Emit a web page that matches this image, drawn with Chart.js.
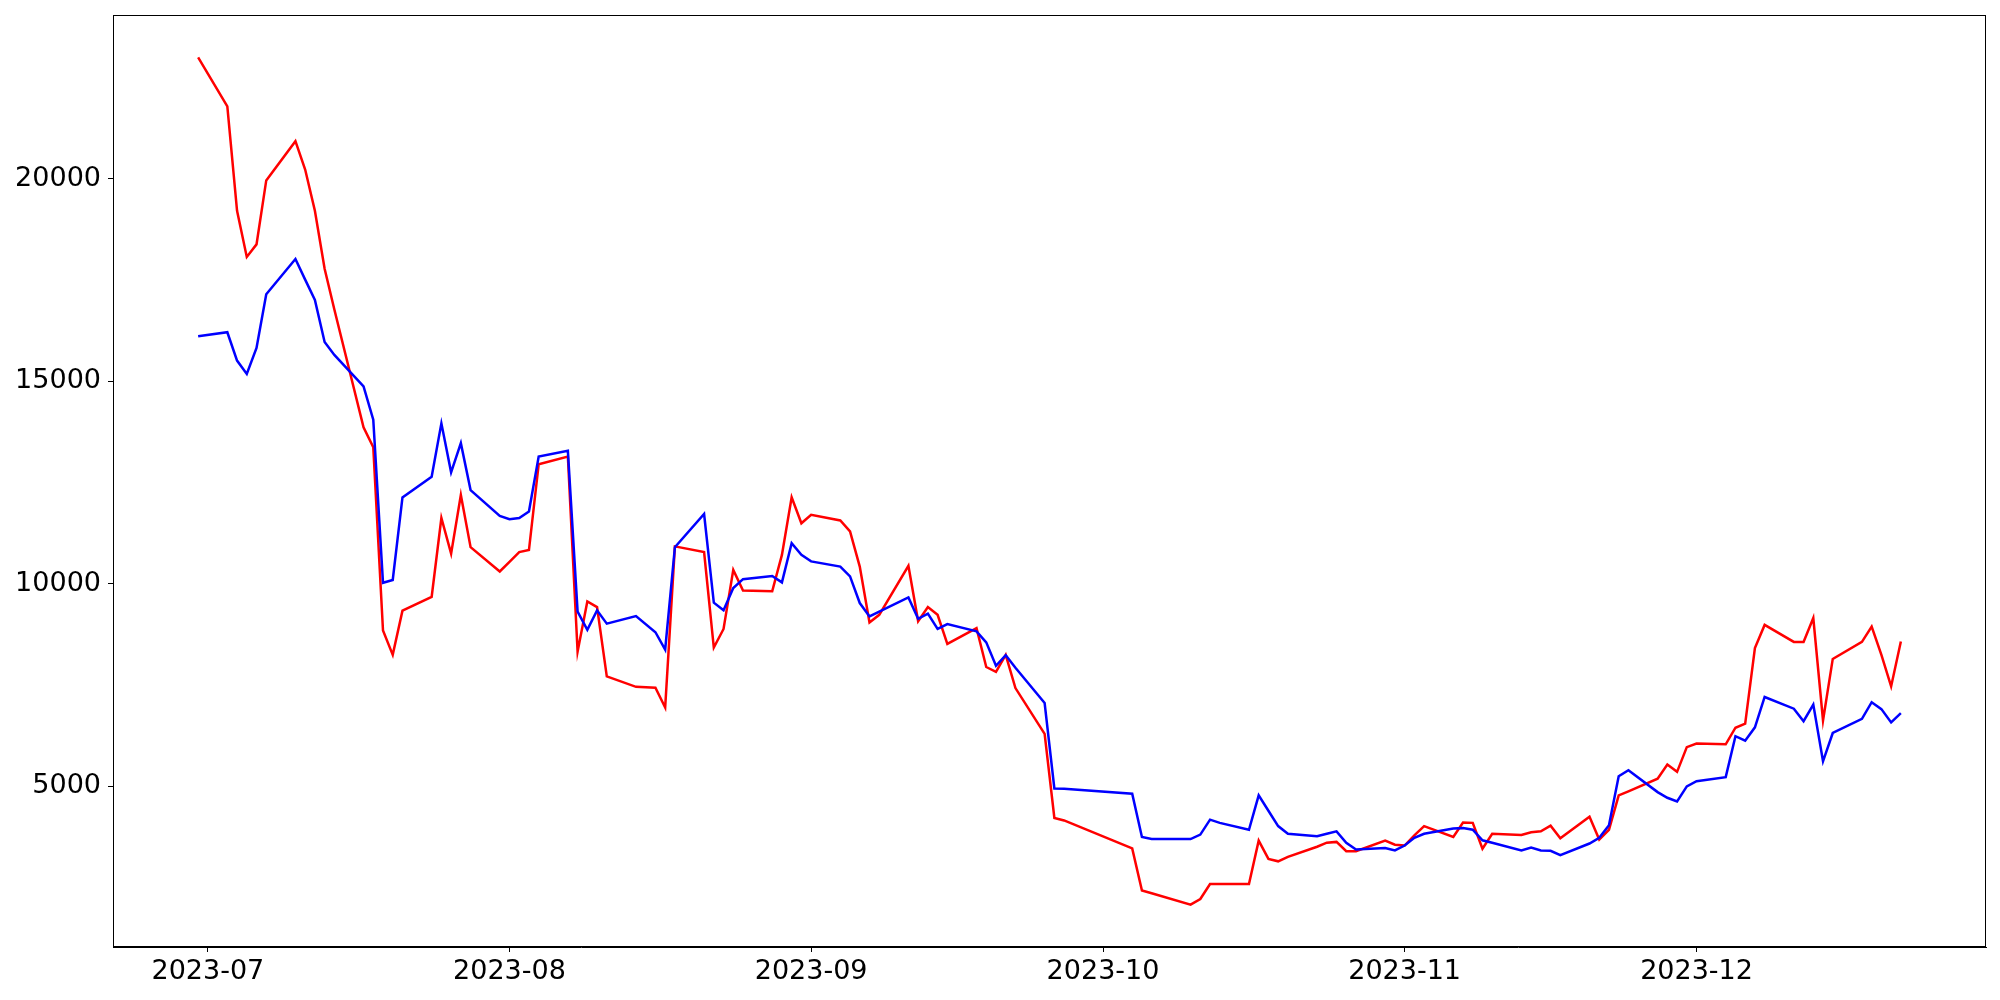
<!DOCTYPE html>
<html>
<head>
<meta charset="utf-8">
<script src="https://cdn.jsdelivr.net/npm/chart.js@4/dist/chart.umd.min.js"></script>
<style>
  body { margin: 0; background: #fff; }
</style>
</head>
<body>
<canvas id="chart" width="2000" height="1000"></canvas>
<script>
  const dates = [
    '2023-06-30', '2023-07-03', '2023-07-04', '2023-07-05', '2023-07-06', '2023-07-07',
    '2023-07-10', '2023-07-11', '2023-07-12', '2023-07-13', '2023-07-14',
    '2023-07-17', '2023-07-18', '2023-07-19', '2023-07-20', '2023-07-21',
    '2023-07-24', '2023-07-25', '2023-07-26', '2023-07-27', '2023-07-28',
    '2023-07-31', '2023-08-01', '2023-08-02', '2023-08-03', '2023-08-04',
    '2023-08-07', '2023-08-08', '2023-08-09', '2023-08-10', '2023-08-11',
    '2023-08-14', '2023-08-16', '2023-08-17', '2023-08-18',
    '2023-08-21', '2023-08-22', '2023-08-23', '2023-08-24', '2023-08-25',
    '2023-08-28', '2023-08-29', '2023-08-30', '2023-08-31', '2023-09-01',
    '2023-09-04', '2023-09-05', '2023-09-06', '2023-09-07', '2023-09-08',
    '2023-09-11', '2023-09-12', '2023-09-13', '2023-09-14', '2023-09-15',
    '2023-09-18', '2023-09-19', '2023-09-20', '2023-09-21', '2023-09-22',
    '2023-09-25', '2023-09-26', '2023-09-27',
    '2023-10-04', '2023-10-05', '2023-10-06',
    '2023-10-10', '2023-10-11', '2023-10-12', '2023-10-13',
    '2023-10-16', '2023-10-17', '2023-10-18', '2023-10-19', '2023-10-20',
    '2023-10-23', '2023-10-24', '2023-10-25', '2023-10-26', '2023-10-27',
    '2023-10-30', '2023-10-31', '2023-11-01', '2023-11-02', '2023-11-03',
    '2023-11-06', '2023-11-07', '2023-11-08', '2023-11-09', '2023-11-10',
    '2023-11-13', '2023-11-14', '2023-11-15', '2023-11-16', '2023-11-17',
    '2023-11-20', '2023-11-21', '2023-11-22', '2023-11-23', '2023-11-24',
    '2023-11-27', '2023-11-28', '2023-11-29', '2023-11-30', '2023-12-01',
    '2023-12-04', '2023-12-05', '2023-12-06', '2023-12-07', '2023-12-08',
    '2023-12-11', '2023-12-12', '2023-12-13', '2023-12-14', '2023-12-15',
    '2023-12-18', '2023-12-19', '2023-12-20', '2023-12-21', '2023-12-22'
  ];

  const redValues = [
    23000, 21790, 19210, 18070, 18380, 19960,
    20930, 20230, 19210, 17780, 16770,
    13860, 13370, 8840, 8240, 9330,
    9670, 11620, 10740, 12190, 10900,
    10300, 10540, 10780, 10830, 12950,
    13140, 8320, 9560, 9420, 7710,
    7450, 7430, 6940, 10920,
    10780, 8420, 8880, 10340, 9830,
    9810, 10710, 12130, 11490, 11700,
    11560, 11290, 10420, 9040, 9230,
    10440, 9070, 9420, 9230, 8510,
    8900, 7940, 7820, 8240, 7420,
    6290, 4210, 4150,
    3460, 2420, 2350,
    2070, 2210, 2580, 2580,
    2580, 3650, 3200, 3140, 3250,
    3500, 3600, 3620, 3390, 3390,
    3650, 3550, 3530, 3780, 4010,
    3740, 4100, 4090, 3450, 3820,
    3790, 3860, 3880, 4020, 3710,
    4240, 3680, 3920, 4770, 4870,
    5180, 5530, 5350, 5960, 6050,
    6030, 6440, 6540, 8410, 8980,
    8560, 8560, 9150, 6620, 8140,
    8560, 8940, 8240, 7460, 8570
  ];

  const blueValues = [
    16110, 16210, 15510, 15180, 15820, 17150,
    18020, 17510, 17010, 15970, 15650,
    14870, 14050, 10020, 10090, 12130,
    12640, 13960, 12750, 13470, 12310,
    11670, 11590, 11620, 11780, 13140,
    13280, 9310, 8860, 9340, 9010,
    9200, 8800, 8370, 10900,
    11720, 9530, 9340, 9890, 10110,
    10190, 10030, 11000, 10710, 10550,
    10420, 10180, 9520, 9190, 9310,
    9660, 9130, 9260, 8880, 9000,
    8820, 8550, 7970, 8230, 7920,
    7050, 4940, 4930,
    4810, 3740, 3690,
    3690, 3800, 4170, 4090,
    3920, 4770, 4390, 4010, 3820,
    3760, 3820, 3880, 3600, 3430,
    3470, 3410, 3530, 3720, 3820,
    3950, 3960, 3920, 3660, 3600,
    3410, 3480, 3410, 3400, 3290,
    3580, 3720, 4030, 5240, 5390,
    4850, 4710, 4620, 4990, 5120,
    5220, 6230, 6120, 6450, 7200,
    6910, 6600, 7010, 5610, 6310,
    6660, 7070, 6900, 6570, 6800
  ];

  const monthTicks = ['2023-07', '2023-08', '2023-09', '2023-10', '2023-11', '2023-12'];
  const valueTicks = [5000, 10000, 15000, 20000];

  // days counted from 2023-07-01, so a linear axis can stand in for a time axis
  const DAY = 86400000;
  const origin = Date.UTC(2023, 6, 1);
  function dayOf(str) {
    const p = str.split('-').map(Number);
    return (Date.UTC(p[0], p[1] - 1, p[2] || 1) - origin) / DAY;
  }
  const monthPos = monthTicks.map(dayOf);

  const xs = dates.map(dayOf);
  const redData = xs.map((x, i) => ({ x: x, y: redValues[i] }));
  const blueData = xs.map((x, i) => ({ x: x, y: blueValues[i] }));

  // matplotlib-style 5% margins
  const xMinD = Math.min(...xs), xMaxD = Math.max(...xs);
  const allY = redValues.concat(blueValues);
  const yMinD = Math.min(...allY), yMaxD = Math.max(...allY);
  const xPad = (xMaxD - xMinD) * 0.05, yPad = (yMaxD - yMinD) * 0.05;

  const frame = {
    id: 'frame',
    afterDraw(chart) {
      const a = chart.chartArea, ctx = chart.ctx;
      ctx.save();
      ctx.strokeStyle = '#000';
      ctx.lineWidth = 1;
      ctx.strokeRect(a.left + 0.5, a.top + 0.5, a.right - a.left - 1, a.bottom - a.top - 1);
      ctx.restore();
    }
  };

  const tickFont = { family: 'DejaVu Sans', size: 27 };

  new Chart(document.getElementById('chart').getContext('2d'), {
    type: 'line',
    data: {
      datasets: [
        {
          label: 'blue',
          data: blueData,
          borderColor: 'blue',
          borderWidth: 2.5,
          pointRadius: 0,
          tension: 0,
          fill: false
        },
        {
          label: 'red',
          data: redData,
          borderColor: 'red',
          borderWidth: 2.5,
          pointRadius: 0,
          tension: 0,
          fill: false
        }
      ]
    },
    options: {
      responsive: false,
      animation: false,
      layout: { padding: { top: 15, right: 14, left: 0, bottom: 0 } },
      plugins: {
        legend: { display: false },
        tooltip: { enabled: false }
      },
      scales: {
        x: {
          type: 'linear',
          min: xMinD - xPad,
          max: xMaxD + xPad,
          afterBuildTicks: (s) => { s.ticks = monthPos.map(v => ({ value: v })); },
          afterFit: (s) => { s.height = 53; s.paddingLeft = 0; s.paddingRight = 0; },
          grid: { drawOnChartArea: false, drawTicks: true, tickLength: 5, tickColor: '#000', tickWidth: 1 },
          border: { display: true, color: '#000', width: 1 },
          ticks: {
            color: '#000',
            font: tickFont,
            padding: 4,
            maxRotation: 0,
            autoSkip: false,
            callback: (v) => {
              const i = monthPos.indexOf(v);
              return i >= 0 ? monthTicks[i] : '';
            }
          }
        },
        y: {
          type: 'linear',
          min: yMinD - yPad,
          max: yMaxD + yPad,
          afterBuildTicks: (s) => { s.ticks = valueTicks.map(v => ({ value: v })); },
          afterFit: (s) => { s.width = 113; s.paddingTop = 0; s.paddingBottom = 0; },
          grid: { drawOnChartArea: false, drawTicks: true, tickLength: 5, tickColor: '#000', tickWidth: 1 },
          border: { display: true, color: '#000', width: 1 },
          ticks: {
            color: '#000',
            font: tickFont,
            padding: 7,
            callback: (v) => String(v)
          }
        }
      }
    },
    plugins: [frame]
  });
</script>
</body>
</html>
